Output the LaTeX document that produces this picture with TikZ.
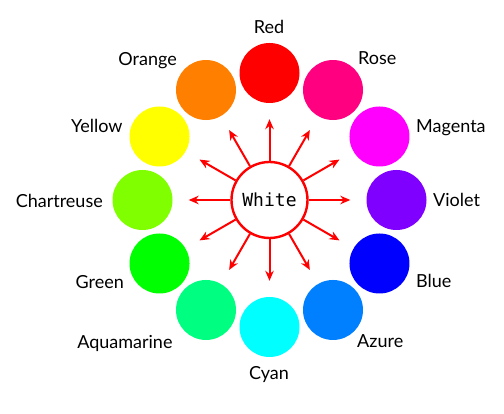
\documentclass[tikz,border=0pt]{standalone}
\usepackage{fontspec}
\setmainfont{Lato}
\newfontfamily\monofont{DejaVu Sans Mono}
\usetikzlibrary{arrows.meta,calc}
\begin{document}
\begin{tikzpicture}[x=1pt,y=1pt,
  colorball/.style={circle,minimum size=60pt,inner sep=0pt,fill=#1},
  lbl/.style={inner sep=0pt,font=\fontsize{18}{21}\selectfont},
  centernode/.style={circle,draw=red,line width=2.4pt,fill=white,minimum size=76pt,inner sep=0pt,font=\monofont\fontsize{18}{20}\selectfont},
  ray/.style={red,line width=2pt,-{Stealth[length=10pt,width=8.5pt]},shorten >=16pt}
]
\useasboundingbox (0,0) rectangle (504,414);
\definecolor{cRed}{HTML}{FF0000}
\definecolor{cRose}{HTML}{FF0080}
\definecolor{cMagenta}{HTML}{FF00FF}
\definecolor{cViolet}{HTML}{8000FF}
\definecolor{cBlue}{HTML}{0000FF}
\definecolor{cAzure}{HTML}{0080FF}
\definecolor{cCyan}{HTML}{00FFFF}
\definecolor{cAquamarine}{HTML}{00FF80}
\definecolor{cGreen}{HTML}{00FF00}
\definecolor{cChartreuse}{HTML}{80FF00}
\definecolor{cYellow}{HTML}{FFFF00}
\definecolor{cOrange}{HTML}{FF8000}
\coordinate (C) at (269.5,214);
\foreach \name/\ang in {Red/90,Rose/60,Magenta/30,Violet/0,Blue/-30,Azure/-60,Cyan/-90,Aquamarine/-120,Green/-150,Chartreuse/180,Yellow/150,Orange/120}{
  \node[colorball=c\name] (\name) at ($(C)+(\ang:127)$) {};
}
% labels
\node[lbl,anchor=base] (lRed) at (269,380) {Red};
\node[lbl,anchor=base west] (lRose) at (358,349) {Rose};
\node[lbl,anchor=base west] (lMagenta) at (416,281.3) {Magenta};
\node[lbl,anchor=base west] (lViolet) at (433,207) {Violet};
\node[lbl,anchor=base west] (lBlue) at (416,126) {Blue};
\node[lbl,anchor=base west] (lAzure) at (357,66) {Azure};
\node[lbl,anchor=base] (lCyan) at (269,34) {Cyan};
\node[lbl,anchor=base east] (lAquamarine) at (172.7,65.7) {Aquamarine};
\node[lbl,anchor=base east] (lGreen) at (124,125.7) {Green};
\node[lbl,anchor=base east] (lChartreuse) at (103,206.5) {Chartreuse};
\node[lbl,anchor=base east] (lYellow) at (122.7,281) {Yellow};
\node[lbl,anchor=base east] (lOrange) at (177,348.3) {Orange};
\node[centernode] (W) at (C) {White};
\foreach \name in {Red,Rose,Magenta,Violet,Blue,Azure,Cyan,Aquamarine,Green,Chartreuse,Yellow,Orange}{
  \draw[ray] (W) -- (\name);
}
\end{tikzpicture}
\end{document}
